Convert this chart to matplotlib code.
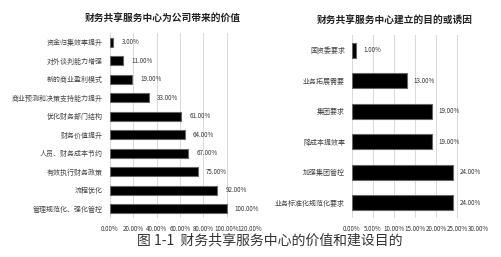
import matplotlib
matplotlib.use('Agg')
import matplotlib.pyplot as plt
from matplotlib.ticker import FuncFormatter

plt.rcParams['font.family'] = ['Noto Sans CJK SC', 'DejaVu Sans']

# Left chart: value brought by the shared service centre
left_labels = ['资金归集效率提升', '对外谈判能力增强', '新的商业盈利模式', '商业预测和决策支持能力提升',
               '优化财务部门结构', '财务价值提升', '人员、财务成本节约', '有效执行财务政策',
               '流程优化', '管理规范化、强化管控']
left_values = [3, 11, 19, 33, 61, 64, 67, 75, 92, 100]
left_ticks = [0, 20, 40, 60, 80, 100, 120]

# Right chart: purpose / trigger of building the centre
right_labels = ['国资委要求', '业务拓展需要', '集团要求', '降成本提效率', '加强集团管控', '业务标准化规范化要求']
right_values = [1, 13, 19, 19, 24, 24]
right_ticks = [0, 5, 10, 15, 20, 25, 30]

W, H = 502, 257
fig = plt.figure(figsize=(W / 100, H / 100), dpi=100)


def draw(ax, labels, values, ticks, offset):
    pos = list(range(len(labels)))
    ax.barh(pos, values, height=0.5, color='black', edgecolor='#666666', linewidth=0.8)
    ax.set_ylim(len(labels) - 0.5, -0.5)
    ax.set_xlim(ticks[0], ticks[-1])
    ax.set_xticks(ticks)
    ax.xaxis.set_major_formatter(FuncFormatter(lambda v, p: f'{v:.2f}%'))
    ax.set_yticks(pos)
    ax.set_yticklabels(labels)
    ax.tick_params(axis='x', labelsize=4.5, length=0, pad=5, colors='#333333')
    ax.tick_params(axis='y', labelsize=5, length=0, pad=5, colors='#444444')
    ax.grid(axis='x', color='#d9d9d9', linewidth=0.7)
    ax.set_axisbelow(True)
    for s in ax.spines.values():
        s.set_visible(False)
    for p, v in zip(pos, values):
        ax.text(v + offset, p, f'{v:.2f}%', va='center', ha='left', fontsize=4.5, color='#333333')
    return ax


axl = fig.add_axes([110 / W, 1 - 218 / H, 140 / W, 185 / H])
draw(axl, left_labels, left_values, left_ticks, 7)
axr = fig.add_axes([352 / W, 1 - 218 / H, 126 / W, 183 / H])
draw(axr, right_labels, right_values, right_ticks, 1.6)

fig.text(163 / W, 1 - 18 / H, '财务共享服务中心为公司带来的价值', ha='center', va='center',
         fontsize=7, fontweight='bold', color='#222222')
fig.text(395 / W, 1 - 20 / H, '财务共享服务中心建立的目的或诱因', ha='center', va='center',
         fontsize=7, fontweight='bold', color='#222222')
fig.text(270 / W, 1 - 240 / H, '图 1-1  财务共享服务中心的价值和建设目的', ha='center', va='center',
         fontsize=10, color='#333333')

fig.savefig('out.png', dpi=100, facecolor='white')
